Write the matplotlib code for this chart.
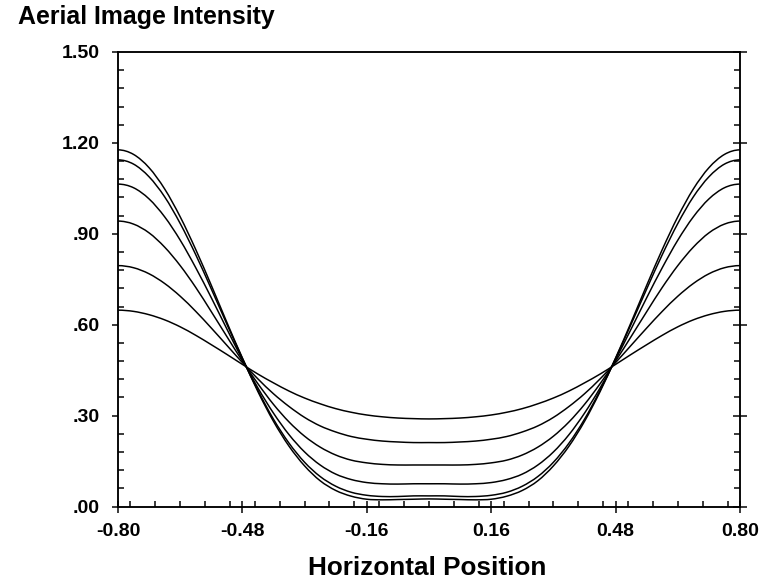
import matplotlib
matplotlib.use("Agg")
import matplotlib.pyplot as plt
from matplotlib.ticker import FixedLocator, MultipleLocator
from matplotlib.path import Path
from matplotlib.patches import PathPatch

plt.rcParams['font.family'] = ['Liberation Sans', 'DejaVu Sans']
plt.rcParams['font.weight'] = 'bold'

# ---- data ----
x_pos = [-0.80, -0.76, -0.72, -0.68, -0.64, -0.60, -0.56, -0.52, -0.48, -0.44,
         -0.40, -0.36, -0.32, -0.28, -0.24, -0.20, -0.16, -0.12, -0.08, -0.04,
         0.00, 0.04, 0.08, 0.12, 0.16, 0.20, 0.24, 0.28, 0.32, 0.36,
         0.40, 0.44, 0.48, 0.52, 0.56, 0.60, 0.64, 0.68, 0.72, 0.76, 0.80]

curve1 = [1.177, 1.162, 1.118, 1.048, 0.956, 0.848, 0.730, 0.608, 0.490, 0.379,
          0.281, 0.199, 0.134, 0.085, 0.053, 0.034, 0.024, 0.022, 0.023, 0.024,
          0.025, 0.024, 0.023, 0.022, 0.024, 0.034, 0.053, 0.085, 0.134, 0.199,
          0.281, 0.379, 0.490, 0.608, 0.730, 0.848, 0.956, 1.048, 1.118, 1.162, 1.177]
curve2 = [1.144, 1.130, 1.088, 1.022, 0.934, 0.831, 0.718, 0.602, 0.489, 0.383,
          0.288, 0.209, 0.146, 0.099, 0.067, 0.047, 0.037, 0.033, 0.033, 0.035,
          0.035, 0.035, 0.033, 0.033, 0.037, 0.047, 0.067, 0.099, 0.146, 0.209,
          0.288, 0.383, 0.489, 0.602, 0.718, 0.831, 0.934, 1.022, 1.088, 1.130, 1.144]
curve3 = [1.064, 1.052, 1.015, 0.956, 0.879, 0.788, 0.689, 0.586, 0.485, 0.391,
          0.308, 0.237, 0.180, 0.137, 0.107, 0.089, 0.079, 0.075, 0.074, 0.075,
          0.075, 0.075, 0.074, 0.075, 0.079, 0.089, 0.107, 0.137, 0.180, 0.237,
          0.308, 0.391, 0.485, 0.586, 0.689, 0.788, 0.879, 0.956, 1.015, 1.052, 1.064]
curve4 = [0.942, 0.932, 0.903, 0.856, 0.795, 0.723, 0.643, 0.561, 0.480, 0.405,
          0.337, 0.279, 0.232, 0.196, 0.170, 0.153, 0.144, 0.139, 0.137, 0.137,
          0.137, 0.137, 0.137, 0.139, 0.144, 0.153, 0.170, 0.196, 0.232, 0.279,
          0.337, 0.405, 0.480, 0.561, 0.643, 0.723, 0.795, 0.856, 0.903, 0.932, 0.942]
curve5 = [0.795, 0.788, 0.768, 0.736, 0.694, 0.644, 0.589, 0.532, 0.475, 0.421,
          0.372, 0.330, 0.294, 0.266, 0.246, 0.231, 0.222, 0.216, 0.213, 0.211,
          0.211, 0.211, 0.213, 0.216, 0.222, 0.231, 0.246, 0.266, 0.294, 0.330,
          0.372, 0.421, 0.475, 0.532, 0.589, 0.644, 0.694, 0.736, 0.768, 0.788, 0.795]
curve6 = [0.648, 0.644, 0.633, 0.616, 0.593, 0.565, 0.534, 0.502, 0.469, 0.437,
          0.408, 0.381, 0.358, 0.339, 0.323, 0.311, 0.302, 0.296, 0.292, 0.290,
          0.289, 0.290, 0.292, 0.296, 0.302, 0.311, 0.323, 0.339, 0.358, 0.381,
          0.408, 0.437, 0.469, 0.502, 0.534, 0.565, 0.593, 0.616, 0.633, 0.644, 0.648]
curves = [curve1, curve2, curve3, curve4, curve5, curve6]

x_ticks = [-0.80, -0.48, -0.16, 0.16, 0.48, 0.80]
x_tick_labels = ['-0.80', '-0.48', '-0.16', '0.16', '0.48', '0.80']
y_ticks = [0.00, 0.30, 0.60, 0.90, 1.20, 1.50]
y_tick_labels = ['.00', '.30', '.60', '.90', '1.20', '1.50']

title_text = 'Aerial Image Intensity'
xlabel_text = 'Horizontal Position'

# ---- figure ----
W, H, DPI = 764, 581, 100
fig = plt.figure(figsize=(W / DPI, H / DPI), dpi=DPI)
ax = fig.add_axes([118 / W, (H - 506.5) / H, (740 - 118) / W, (506.5 - 52) / H])

pt = 72 / DPI  # points per pixel
lw = 1.5 * pt


def smooth_path(xs, ys):
    """Smooth (Catmull-Rom as cubic Bezier) rendering path through the points."""
    n = len(xs)
    verts = [(xs[0], ys[0])]
    codes = [Path.MOVETO]
    for i in range(n - 1):
        i0 = max(i - 1, 0)
        i3 = min(i + 2, n - 1)
        # flat tangents at the ends (curves peak at the window edges)
        if i == 0:
            c1 = (xs[i] + (xs[i + 1] - xs[i]) / 3, ys[i])
        else:
            c1 = (xs[i] + (xs[i + 1] - xs[i0]) / 6, ys[i] + (ys[i + 1] - ys[i0]) / 6)
        if i == n - 2:
            c2 = (xs[i + 1] - (xs[i + 1] - xs[i]) / 3, ys[i + 1])
        else:
            c2 = (xs[i + 1] - (xs[i3] - xs[i]) / 6, ys[i + 1] - (ys[i3] - ys[i]) / 6)
        verts += [c1, c2, (xs[i + 1], ys[i + 1])]
        codes += [Path.CURVE4, Path.CURVE4, Path.CURVE4]
    return Path(verts, codes)


for c in curves:
    ax.add_patch(PathPatch(smooth_path(x_pos, c), facecolor='none',
                           edgecolor='black', lw=lw, capstyle='butt'))

ax.set_xlim(-0.80, 0.80)
ax.set_ylim(0.0, 1.5)

for s in ax.spines.values():
    s.set_linewidth(lw)

ax.xaxis.set_major_locator(FixedLocator(x_ticks))
ax.set_xticklabels(x_tick_labels)
ax.xaxis.set_minor_locator(MultipleLocator(0.064))
ax.yaxis.set_major_locator(FixedLocator(y_ticks))
ax.set_yticklabels(y_tick_labels)
ax.yaxis.set_minor_locator(MultipleLocator(0.06))

ax.tick_params(axis='x', which='major', direction='inout', length=12 * pt,
               width=lw, top=False, bottom=True, labelsize=14, pad=10 * pt)
ax.tick_params(axis='x', which='minor', direction='in', length=6 * pt,
               width=lw, top=False, bottom=True)
ax.tick_params(axis='y', which='major', direction='out', length=6 * pt,
               width=lw, left=True, right=False, labelsize=14, pad=12 * pt)
ax.tick_params(axis='y', which='minor', direction='in', length=6 * pt,
               width=lw, left=True, right=False)
for lab in ax.get_xticklabels() + ax.get_yticklabels():
    lab.set_fontweight('bold')

ax2 = ax.twinx()
ax2.set_ylim(ax.get_ylim())
ax2.yaxis.set_major_locator(FixedLocator(y_ticks))
ax2.yaxis.set_minor_locator(MultipleLocator(0.06))
ax2.tick_params(axis='y', which='major', direction='inout', length=14 * pt,
                width=lw, right=True, left=False, labelright=False)
ax2.tick_params(axis='y', which='minor', direction='in', length=6 * pt,
                width=lw, right=True, left=False)
for s in ax2.spines.values():
    s.set_linewidth(lw)

fig.text(18 / W, 1 - 24 / H, title_text, fontsize=17.9, fontweight='bold',
         ha='left', va='baseline')
fig.text(427 / W, 1 - 575 / H, xlabel_text, fontsize=18.8, fontweight='bold',
         ha='center', va='baseline')

fig.savefig('out.png', dpi=DPI)
